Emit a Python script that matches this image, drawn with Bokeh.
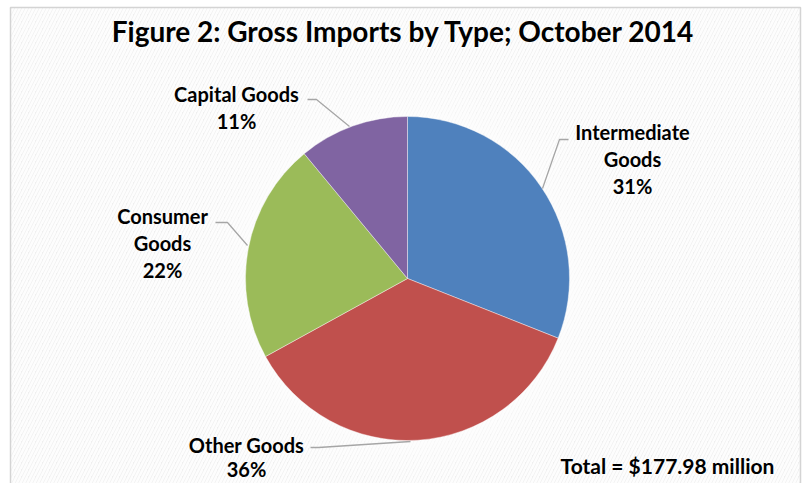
import math
from bokeh.plotting import figure
from bokeh.models import Range1d, ColumnDataSource
from bokeh.core.properties import value
from bokeh.embed import file_html
from bokeh.resources import INLINE

# ---- data ----
categories = ["Intermediate Goods", "Other Goods", "Consumer Goods", "Capital Goods"]
shares = [31, 36, 22, 11]
colors = ["#4F81BD", "#C0504D", "#9BBB59", "#8064A2"]
title_text = "Figure 2: Gross Imports by Type; October 2014"
total_text = "Total = $177.98 million"

# label line splits (layout of label text)
label_lines = [["Intermediate", "Goods"], ["Other Goods"], ["Consumer", "Goods"], ["Capital Goods"]]

W, HT = 804, 483
H = HT
def fy(py):
    return H - py

p = figure(width=W, height=HT, x_range=Range1d(0, W), y_range=Range1d(0, HT),
           output_backend="svg", toolbar_location=None, min_border=0)
p.axis.visible = False
p.grid.visible = False
p.background_fill_color = "white"
p.border_fill_color = "white"
p.outline_line_color = None

# chart area frame with striped background
fl, ft, fr, fb = 10, 7, 800, 500
p.quad(left=[fl], right=[fr], bottom=[fy(fb)], top=[fy(ft)], fill_color="#efefef",
       line_color="#d4d4d4", line_width=1.5)
p.quad(left=[fl + 1], right=[fr - 1], bottom=[fy(fb)], top=[fy(ft + 1)], fill_alpha=0,
       line_alpha=0, hatch_pattern="right_diagonal_line", hatch_color="white",
       hatch_alpha=0.9, hatch_scale=7, hatch_weight=2.5)

cx, cy, r = 407, fy(278), 162

# soft glow behind the pie
for rr, a in [(215, 0.10), (200, 0.12), (188, 0.15), (176, 0.2), (168, 0.25)]:
    p.circle(x=[cx], y=[cy], radius=rr, fill_color="white", fill_alpha=a, line_alpha=0)

# wedges, starting at 12 o'clock, going clockwise
total = sum(shares)
starts, ends = [], []
cum = 0.0
for s in shares:
    a0 = math.pi / 2 - 2 * math.pi * (cum + s) / total
    a1 = math.pi / 2 - 2 * math.pi * cum / total
    starts.append(a0)
    ends.append(a1)
    cum += s
src = ColumnDataSource(dict(start=starts, end=ends, color=colors, cat=categories))
p.wedge(x=cx, y=cy, radius=r, start_angle="start", end_angle="end", fill_color="color",
        line_color="white", line_alpha=0.5, line_width=0.8, source=src)

# leader lines (pixel coords)
leaders = [
    [(568, 139), (559, 139), (542, 188)],
    [(310, 447), (318, 447), (410, 441)],
    [(215, 222), (227, 222), (247, 245)],
    [(307, 99), (316, 99), (349, 126)],
]
for pts in leaders:
    p.line(x=[q[0] for q in pts], y=[fy(q[1]) for q in pts], line_color="#a6a6a6", line_width=1.3)

# labels
label_pos = [(632, 131, 27), (246, 444, 24), (162, 215, 27), (236, 93, 27)]
font = value("Lato")
tx, ty, tt = [], [], []
for (lx, ly, step), lines, s in zip(label_pos, label_lines, shares):
    for i, ln in enumerate(lines + [f"{s}%"]):
        tx.append(lx)
        ty.append(fy(ly + i * step))
        tt.append(ln)
p.text(x=tx, y=ty, text=tt, text_font=font, text_font_style="bold", text_font_size="20px",
       text_align="center", text_baseline="middle", text_color="black")

p.text(x=[403], y=[fy(30)], text=[title_text], text_font=font, text_font_style="bold",
       text_font_size="28px", text_align="center", text_baseline="middle", text_color="black")
p.text(x=[667], y=[fy(465)], text=[total_text], text_font=font, text_font_style="bold",
       text_font_size="21px", text_align="center", text_baseline="middle", text_color="black")

open("out.html", "w").write(file_html(p, INLINE))
